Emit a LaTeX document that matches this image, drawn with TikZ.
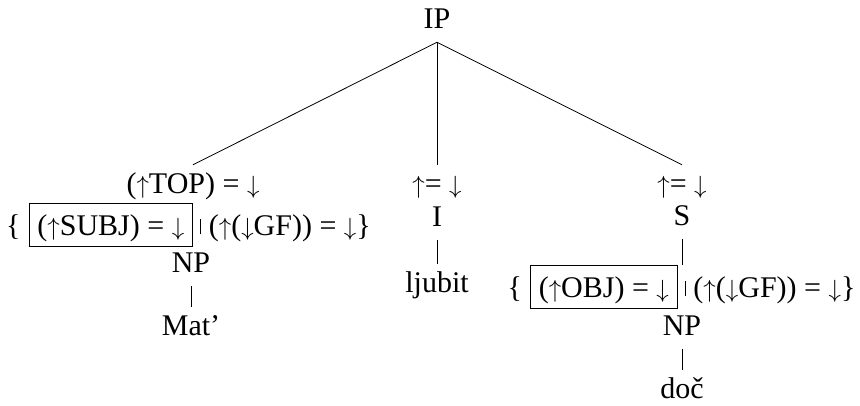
\documentclass[tikz,border=0pt]{standalone}
\usepackage{fontspec}
\setmainfont{Liberation Serif}
\usepackage{tikz}
\usetikzlibrary{positioning}

\tikzstyle{cat}  = [inner sep=6.5pt, text height=21.5pt, text depth=7.5pt, anchor=base]
\tikzstyle{anno} = [inner sep=0pt, anchor=base]
\tikzstyle{edge} = [line width=0.8pt]

\newcommand{\up}{$\uparrow$}
\newcommand{\dn}{$\downarrow$}
\newcommand{\disjbar}{\hspace{7pt}\rule[0.02em]{0.8pt}{0.5em}\hspace{8pt}}
\newcommand{\gfbox}[1]{{\fboxsep=5pt\fboxrule=0.8pt%
  \fbox{\hspace{3pt}\rule[-0.1em]{0pt}{0.98em}#1\hspace{3pt}}}}

\begin{document}
\begin{tikzpicture}[x=1pt, y=-1pt, font=\fontsize{30}{35}\selectfont]
  \useasboundingbox (0,0) rectangle (860,405);

  %% Root
  \node[cat] (ip) at (437,28) {IP};

  %% Topic daughter
  \node[cat] (top) at (193,193) {(\up TOP) = \dn};
  \node[anno] (subjrow) at (188.5,235)
        {\{\hspace{8pt}\gfbox{(\up SUBJ) = \dn}\disjbar(\up(\dn GF)) = \dn\}};
  \node[cat] (npsubj) at (191,272) {NP};
  \node[cat] (mat) at (191,335) {Mat’};

  %% Head
  \node[cat] (eqi) at (437,193) {\up= \dn};
  \node[cat] (i) at (437,226) {I};
  \node[cat] (ljubit) at (437,292) {ljubit};

  %% Complement
  \node[cat] (eqs) at (682,193) {\up= \dn};
  \node[cat] (s) at (682,225) {S};
  \node[anno] (objrow) at (681.5,297)
        {\{\hspace{8pt}\gfbox{(\up OBJ) = \dn}\disjbar(\up(\dn GF)) = \dn\}};
  \node[cat] (npobj) at (682,335) {NP};
  \node[cat] (doc) at (682,398) {doč};

  %% Branches
  \draw[edge] (ip.south) -- (top.north);
  \draw[edge] (ip.south) -- (eqi.north);
  \draw[edge] (ip.south) -- (eqs.north);
  \draw[edge] (npsubj.south) -- (mat.north);
  \draw[edge] (i.south) -- (ljubit.north);
  \draw[edge] (s.south) -- (s.south |- objrow.north);
  \draw[edge] (npobj.south) -- (doc.north);

\end{tikzpicture}
\end{document}
